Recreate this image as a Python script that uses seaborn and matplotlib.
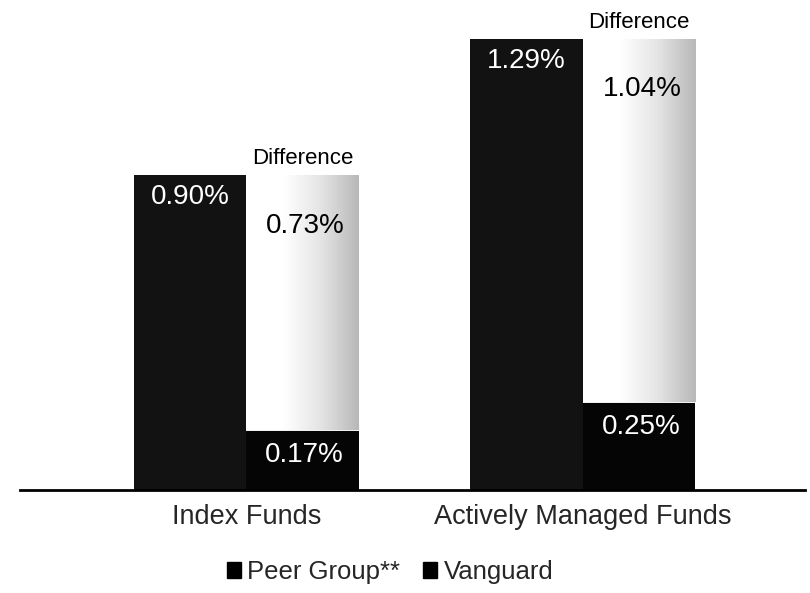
import matplotlib
matplotlib.use('Agg')
import matplotlib.pyplot as plt
from matplotlib.colors import LinearSegmentedColormap
from matplotlib.patches import Patch
import numpy as np
import pandas as pd
import seaborn as sns

# Data (expense ratios, %)
groups = ['Index Funds', 'Actively Managed Funds']
series = ['Peer Group**', 'Vanguard']
peer_vals = [0.90, 1.29]
vanguard_vals = [0.17, 0.25]
diff_vals = [0.73, 1.04]

df = pd.DataFrame({
    'group': groups * 2,
    'series': [series[0]] * 2 + [series[1]] * 2,
    'value': peer_vals + vanguard_vals,
})

sns.set_style('white')
plt.rcParams['font.family'] = ['Liberation Sans', 'DejaVu Sans']

fig = plt.figure(figsize=(8.1, 5.93), dpi=100)
ax = fig.add_axes([20 / 810, (593 - 490) / 593, 785 / 810, 490 / 593])

colors = ['#121212', '#050505']
sns.barplot(data=df, x='group', y='value', hue='series', order=groups,
            hue_order=series, palette=colors, width=0.669, gap=0,
            saturation=1, legend=False, ax=ax, edgecolor='none')

# Difference segment on top of the Vanguard bars (white -> grey gradient)
cmap = LinearSegmentedColormap.from_list('diff', ['#ffffff', '#ffffff', '#e4e4e4', '#b8b8b8'])
grad = np.linspace(0, 1, 256).reshape(1, -1)
peer_bars = ax.containers[0]
van_bars = ax.containers[1]
for rect, d in zip(van_bars, diff_vals):
    x0 = rect.get_x()
    w = rect.get_width()
    bottom = rect.get_height()
    seg = ax.bar(x0 + w / 2, d, width=w, bottom=bottom, color='#f0f0f0',
                 edgecolor='none', zorder=2)[0]
    im = ax.imshow(grad, extent=[x0, x0 + w, bottom, bottom + d], aspect='auto',
                   cmap=cmap, zorder=2.5, interpolation='bilinear')
    im.set_clip_path(seg)
    ax.annotate('Difference', (x0 + w / 2, bottom + d), xytext=(0, 16),
                textcoords='offset pixels', ha='center', va='center',
                fontsize=16, color='black')
    ax.annotate(f'{d:.2f}%', (x0 + w / 2, bottom + d), xytext=(3, -51),
                textcoords='offset pixels', ha='center', va='center',
                fontsize=20, color='black', zorder=5)
    ax.annotate(f'{bottom:.2f}%', (x0 + w / 2, bottom), xytext=(2, -25),
                textcoords='offset pixels', ha='center', va='center',
                fontsize=20, color='white', zorder=5)

for rect in peer_bars:
    xc = rect.get_x() + rect.get_width() / 2
    h = rect.get_height()
    ax.annotate(f'{h:.2f}%', (xc, h), xytext=(0, -22),
                textcoords='offset pixels', ha='center', va='center',
                fontsize=20, color='white', zorder=5)

ax.set_xlim(-0.673, 1.660)
ax.set_ylim(0, 1.40)
ax.set_xlabel('')
ax.set_ylabel('')
ax.set_yticks([])
for s in ['top', 'right', 'left']:
    ax.spines[s].set_visible(False)
ax.spines['bottom'].set_linewidth(2)
ax.spines['bottom'].set_color('black')
ax.spines['bottom'].set_zorder(6)
ax.tick_params(axis='x', length=0, pad=10, labelsize=19.5)

handles = [Patch(facecolor='black', edgecolor='black', label=s) for s in series]
fig.legend(handles=handles, loc='center', bbox_to_anchor=(390 / 810, 1 - 572 / 593),
           ncol=2, frameon=False, fontsize=18.5, handlelength=0.55, handleheight=0.55,
           handletextpad=0.25, columnspacing=0.9)

fig.savefig('out.png', dpi=100, facecolor='white')
